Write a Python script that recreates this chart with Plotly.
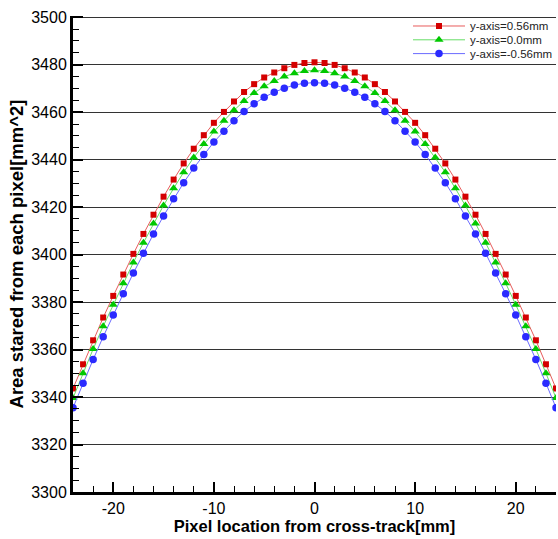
import plotly.graph_objects as go

x_mm = list(range(-24, 25))

area_p056 = [3343.6, 3353.8, 3363.9, 3373.5, 3382.6, 3391.6, 3400.3, 3408.7, 3416.8, 3424.4,
             3431.6, 3438.4, 3444.6, 3450.3, 3455.5, 3460.1, 3464.5, 3468.5, 3471.8, 3474.6,
             3476.7, 3478.5, 3479.9, 3480.7, 3481.0, 3480.7, 3479.9, 3478.5, 3476.7, 3474.6,
             3471.8, 3468.5, 3464.5, 3460.1, 3455.5, 3450.3, 3444.6, 3438.4, 3431.6, 3424.4,
             3416.8, 3408.7, 3400.3, 3391.6, 3382.6, 3373.5, 3363.9, 3353.8, 3343.6]

area_0 = [3339.6, 3350.0, 3360.2, 3369.8, 3378.9, 3387.9, 3396.7, 3405.0, 3413.1, 3420.7,
          3427.9, 3434.7, 3440.9, 3446.6, 3451.8, 3456.4, 3460.8, 3464.7, 3468.1, 3470.9,
          3473.1, 3475.0, 3476.4, 3477.3, 3477.6, 3477.3, 3476.4, 3475.0, 3473.1, 3470.9,
          3468.1, 3464.7, 3460.8, 3456.4, 3451.8, 3446.6, 3440.9, 3434.7, 3427.9, 3420.7,
          3413.1, 3405.0, 3396.7, 3387.9, 3378.9, 3369.8, 3360.2, 3350.0, 3339.6]

area_m056 = [3335.5, 3345.8, 3355.8, 3365.4, 3374.6, 3383.5, 3392.2, 3400.6, 3408.7, 3416.3,
             3423.5, 3430.3, 3436.5, 3442.2, 3447.4, 3452.0, 3456.4, 3460.3, 3463.5, 3466.3,
             3468.4, 3470.1, 3471.4, 3472.2, 3472.4, 3472.2, 3471.4, 3470.1, 3468.4, 3466.3,
             3463.5, 3460.3, 3456.4, 3452.0, 3447.4, 3442.2, 3436.5, 3430.3, 3423.5, 3416.3,
             3408.7, 3400.6, 3392.2, 3383.5, 3374.6, 3365.4, 3355.8, 3345.8, 3335.5]

series_names = ["y-axis=0.56mm", "y-axis=0.0mm", "y-axis=-0.56mm"]
x_tick_vals = [-20, -10, 0, 10, 20]
x_tick_labels = ["-20", "-10", "0", "10", "20"]
y_ticks = [3300, 3320, 3340, 3360, 3380, 3400, 3420, 3440, 3460, 3480, 3500]

FONT = "Liberation Sans"

fig = go.Figure()
fig.add_trace(go.Scatter(x=x_mm, y=area_p056, name=series_names[0], mode="lines+markers",
                         legend="legend",
                         line=dict(color="#e85c5c", width=1),
                         marker=dict(symbol="square", size=6, color="#d40000")))
fig.add_trace(go.Scatter(x=x_mm, y=area_0, name=series_names[1], mode="lines+markers",
                         legend="legend2",
                         line=dict(color="#66dd66", width=1),
                         marker=dict(symbol="triangle-up", size=8, color="#00c800")))
fig.add_trace(go.Scatter(x=x_mm, y=area_m056, name=series_names[2], mode="lines+markers",
                         legend="legend3",
                         line=dict(color="#6b6bff", width=1),
                         marker=dict(symbol="circle", size=7.5, color="#2a2aff")))

# legend left edge at pixel 408 of the 558 px figure; plot domain spans 73..556
leg_common = dict(x=(408 - 73) / 483, xanchor="left", yanchor="middle", bgcolor="rgba(0,0,0,0)",
                  font=dict(size=11.5, family=FONT, color="#222"), borderwidth=0,
                  itemwidth=52)

fig.update_layout(
    width=558, height=539,
    margin=dict(l=73, r=2, t=16, b=47, autoexpand=False),
    paper_bgcolor="white", plot_bgcolor="white",
    font=dict(family=FONT, color="black", size=16),
    showlegend=True,
    legend=dict(y=0.979, **leg_common),
    legend2=dict(y=0.950, **leg_common),
    legend3=dict(y=0.921, **leg_common),
    xaxis=dict(range=[-24, 24], tickvals=x_tick_vals, ticktext=x_tick_labels,
               showgrid=False, zeroline=False, automargin=False,
               showline=True, linecolor="black", linewidth=3,
               ticks="inside", ticklen=10, tickwidth=2, tickcolor="black",
               minor=dict(dtick=2, ticks="inside", ticklen=6, tickwidth=1, tickcolor="black", showgrid=False),
               tickfont=dict(size=16, family=FONT),
               title=dict(text="Pixel location from cross-track[mm]",
                          font=dict(size=16.5, family=FONT, weight="bold"), standoff=0)),
    yaxis=dict(range=[3300, 3500.5], tickvals=y_ticks, showgrid=True, gridcolor="#333333", gridwidth=1,
               zeroline=False, showline=True, linecolor="black", linewidth=3, automargin=False,
               ticklabeloverflow="allow",
               ticks="inside", ticklen=10, tickwidth=2, tickcolor="black",
               minor=dict(dtick=5, ticks="inside", ticklen=6, tickwidth=1, tickcolor="black", showgrid=False),
               tickfont=dict(size=16, family=FONT),
               title=dict(text="Area stared from each pixel[mm^2]",
                          font=dict(size=18.5, family=FONT, weight="bold"), standoff=3)),
)

fig.write_html("out.html", config={"displayModeBar": False},
               post_script="document.body.style.margin='0';document.body.style.overflow='hidden';")
